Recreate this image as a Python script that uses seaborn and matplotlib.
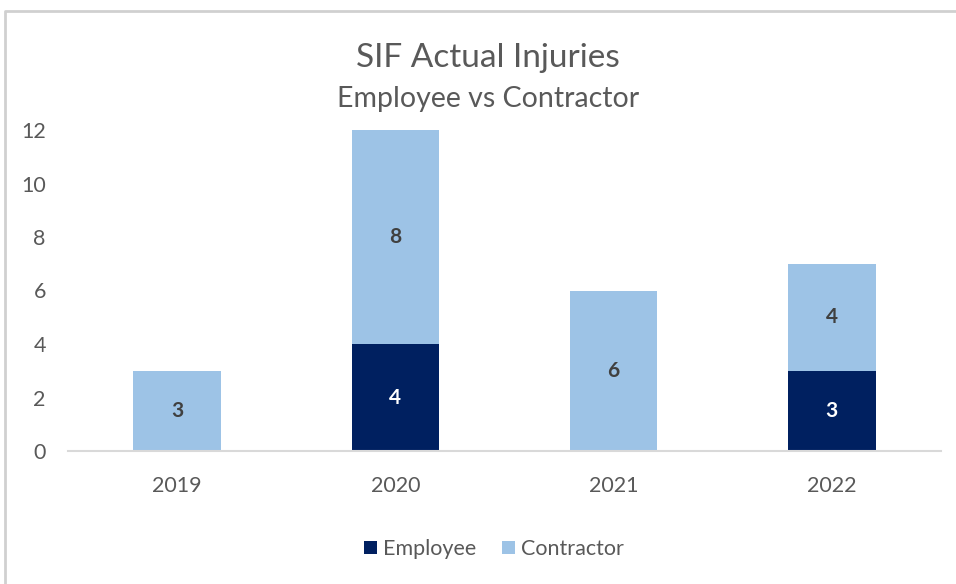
import matplotlib
matplotlib.use("Agg")
import matplotlib.pyplot as plt
import seaborn as sns
import numpy as np
from matplotlib.lines import Line2D
from matplotlib.patches import Patch

years = ["2019", "2020", "2021", "2022"]
employee = [0, 4, 0, 3]
contractor = [3, 8, 6, 4]
series_names = ["Employee", "Contractor"]
y_ticks = [0, 2, 4, 6, 8, 10, 12]

c_emp = "#002060"
c_con = "#9DC3E6"
txt = "#595959"

sns.set_theme(style="white")
plt.rcParams['font.family'] = ['Lato', 'DejaVu Sans']

fig = plt.figure(figsize=(9.56, 5.84), dpi=100)
ax = fig.add_axes([68/956, 1-451/584, (941-68)/956, (451-130)/584])

sns.barplot(x=years, y=employee, color=c_emp, width=0.4, ax=ax, saturation=1, linewidth=0)
sns.barplot(x=years, y=contractor, bottom=employee, color=c_con, width=0.4, ax=ax, saturation=1, linewidth=0)

for cont, col in zip(ax.containers, ["white", "#404040"]):
    labels = [f"{v:g}" if v > 0 else "" for v in cont.datavalues]
    ax.bar_label(cont, labels=labels, label_type="center", color=col,
                 fontsize=15, fontweight="bold")

ax.set_ylim(0, 12)
ax.set_xlim(-0.5, 3.5)
ax.set_yticks(y_ticks)
ax.tick_params(axis="both", length=0, labelsize=15.5, labelcolor=txt)
ax.tick_params(axis="y", pad=16)
ax.tick_params(axis="x", pad=18)
for s in ["top", "right", "left"]:
    ax.spines[s].set_visible(False)
ax.spines["bottom"].set_color("#D9D9D9")
ax.spines["bottom"].set_linewidth(1.5)
ax.grid(False)

fig.text(488/956, 1-58/584, "SIF Actual Injuries", ha="center", va="center",
         fontsize=24, color=txt)
fig.text(488/956, 1-99/584, "Employee vs Contractor", ha="center", va="center",
         fontsize=20.5, color=txt)

handles = [Patch(facecolor=c_emp, edgecolor="none"), Patch(facecolor=c_con, edgecolor="none")]
fig.legend(handles, series_names, loc="center", bbox_to_anchor=(494/956, 1-549/584),
           ncol=2, frameon=False, fontsize=15.5, labelcolor=txt, handlelength=0.6,
           handleheight=0.6, handletextpad=0.3, columnspacing=1.2)

fig.add_artist(Line2D([4.5/956, 4.5/956, 1.0], [0, 1-11/584, 1-11/584],
                      transform=fig.transFigure, color="#D0D0D0", linewidth=2))

fig.savefig("out.png", dpi=100)
